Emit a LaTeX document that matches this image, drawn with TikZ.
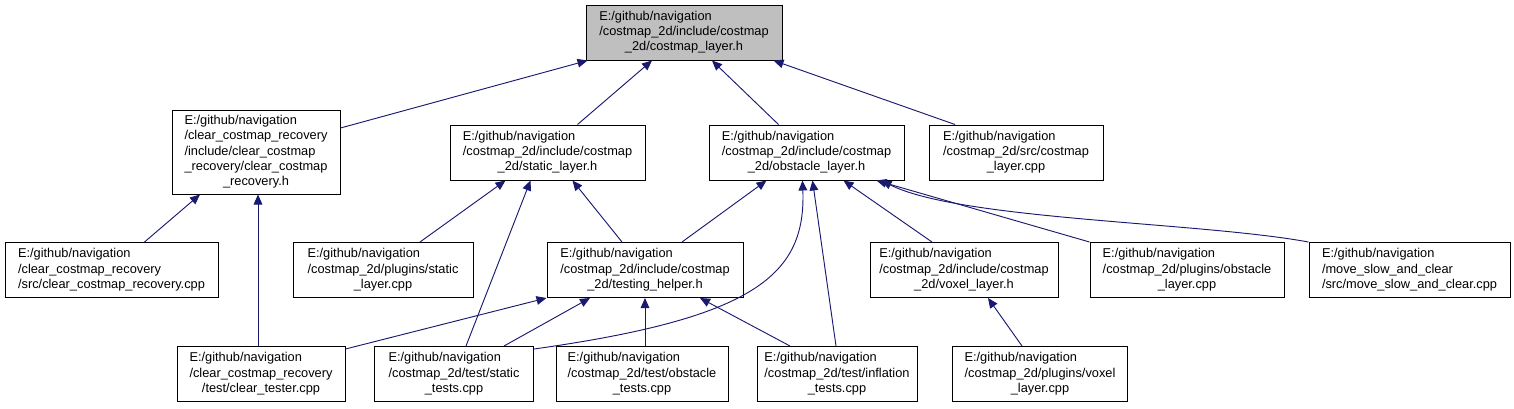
\documentclass[tikz,border=0pt]{standalone}
\usepackage{fontspec}
\setmainfont{Liberation Sans}
\usepackage{xcolor}
\usepackage{tikz}
\usetikzlibrary{arrows.meta,calc}
\definecolor{edgeblue}{RGB}{25,25,112}
\definecolor{rootgray}{RGB}{191,191,191}
\newcommand{\flines}[2]{\begin{tabular}{@{}l@{}}#1\\\multicolumn{1}{@{}c@{}}{#2}\end{tabular}}

\begin{document}
\begin{tikzpicture}[
                x=0.75pt, y=-0.75pt,
                font=\fontsize{9.6}{11.5}\selectfont,
                filebox/.style={draw=black, line width=0.75pt, fill=white, inner sep=0pt, minimum height=41.25pt},
                rootbox/.style={filebox, fill=rootgray},
                dep/.style={-{Triangle[length=7.5pt, width=6.5pt]}, draw=edgeblue, line width=0.7pt}
            ]
            \useasboundingbox (0,0) rectangle (1514,408);
            \node[rootbox, minimum width=147pt] (root) at (684,32.5) {\flines{E:/github/navigation\\/costmap\_2d/include/costmap}{\_2d/costmap\_layer.h}};
            % second row
            \node[filebox, minimum width=126pt, minimum height=63pt] (ccrh) at (256,152) {\flines{E:/github/navigation\\/clear\_costmap\_recovery\\/include/clear\_costmap\\\_recovery/clear\_costmap}{\_recovery.h}};
            \node[filebox, minimum width=146.25pt] (slh) at (547.5,152.5) {\flines{E:/github/navigation\\/costmap\_2d/include/costmap}{\_2d/static\_layer.h}};
            \node[filebox, minimum width=146.25pt] (olh) at (806.5,152.5) {\flines{E:/github/navigation\\/costmap\_2d/include/costmap}{\_2d/obstacle\_layer.h}};
            \node[filebox, minimum width=130.5pt] (clcpp) at (1016,152.5) {\flines{E:/github/navigation\\/costmap\_2d/src/costmap}{\_layer.cpp}};
            % third row
            \node[filebox, minimum width=159.75pt] (ccrcpp) at (111.5,270) {\flines{E:/github/navigation\\/clear\_costmap\_recovery}{/src/clear\_costmap\_recovery.cpp}};
            \node[filebox, minimum width=135pt] (slcpp) at (383,270) {\flines{E:/github/navigation\\/costmap\_2d/plugins/static}{\_layer.cpp}};
            \node[filebox, minimum width=147pt] (th) at (645,270) {\flines{E:/github/navigation\\/costmap\_2d/include/costmap}{\_2d/testing\_helper.h}};
            \node[filebox, minimum width=141pt] (vlh) at (964,270) {\flines{E:/github/navigation\\/costmap\_2d/include/costmap}{\_2d/voxel\_layer.h}};
            \node[filebox, minimum width=145.5pt] (olcpp) at (1187,270) {\flines{E:/github/navigation\\/costmap\_2d/plugins/obstacle}{\_layer.cpp}};
            \node[filebox, minimum width=150.75pt] (msc) at (1409.5,270) {\flines{E:/github/navigation\\/move\_slow\_and\_clear}{/src/move\_slow\_and\_clear.cpp}};
            % bottom row
            \node[filebox, minimum width=126pt] (ctest) at (261,374) {\flines{E:/github/navigation\\/clear\_costmap\_recovery}{/test/clear\_tester.cpp}};
            \node[filebox, minimum width=119.25pt] (stest) at (454,374) {\flines{E:/github/navigation\\/costmap\_2d/test/static}{\_tests.cpp}};
            \node[filebox, minimum width=129pt] (otest) at (642,374) {\flines{E:/github/navigation\\/costmap\_2d/test/obstacle}{\_tests.cpp}};
            \node[filebox, minimum width=120pt] (itest) at (837,374) {\flines{E:/github/navigation\\/costmap\_2d/test/inflation}{\_tests.cpp}};
            \node[filebox, minimum width=131.25pt] (vlcpp) at (1040,374) {\flines{E:/github/navigation\\/costmap\_2d/plugins/voxel}{\_layer.cpp}};
            % includes
            \draw[dep] ($(ccrh.east)+(0,-24)$) -- ($(root.south west)+(2,0)$);
            \draw[dep] ($(slh.north)+(30,0)$) -- ($(root.south)+(-32,0)$);
            \draw[dep] ($(olh.north)+(-28,0)$) -- ($(root.south)+(28,0)$);
            \draw[dep] ($(clcpp.north)+(-61,0)$) -- ($(root.south east)+(-9,0)$);
            \draw[dep] ($(ccrcpp.north)+(33,0)$) -- ($(ccrh.south)+(-56,0)$);
            \draw[dep] ($(ctest.north)+(-3,0)$) -- ($(ccrh.south)+(2,0)$);
            \draw[dep] ($(slcpp.north)+(37,0)$) -- ($(slh.south)+(-42,0)$);
            \draw[dep] ($(stest.north)+(12,0)$) -- ($(slh.south)+(-17,0)$);
            \draw[dep] ($(th.north)+(-23,0)$) -- ($(slh.south)+(25,0)$);
            \draw[dep] ($(th.north)+(37,0)$) -- ($(olh.south)+(-40,0)$);
            \draw[dep] ($(stest.north east)+(0,3)$) .. controls (755,318) and (806,275) .. ($(olh.south)+(-4,0)$);
            \draw[dep] ($(itest.north)+(-1,0)$) -- ($(olh.south)+(6,0)$);
            \draw[dep] ($(vlh.north)+(-32,0)$) -- ($(olh.south)+(37,0)$);
            \draw[dep] (olcpp.north west) -- ($(olh.south)+(70,0)$);
            \draw[dep] (msc.north west) .. controls (1200,222) and (960,220) .. ($(olh.south)+(75,0)$);
            \draw[dep] ($(ctest.north east)+(0,3)$) -- (th.south west);
            \draw[dep] ($(stest.north)+(50,0)$) -- ($(th.south)+(-55,0)$);
            \draw[dep] ($(otest.north)+(3,0)$) -- (th.south);
            \draw[dep] ($(itest.north)+(-47,0)$) -- ($(th.south)+(55,0)$);
            \draw[dep] ($(vlcpp.north)+(-18,0)$) -- ($(vlh.south)+(24,0)$);
        \end{tikzpicture}
\end{document}
